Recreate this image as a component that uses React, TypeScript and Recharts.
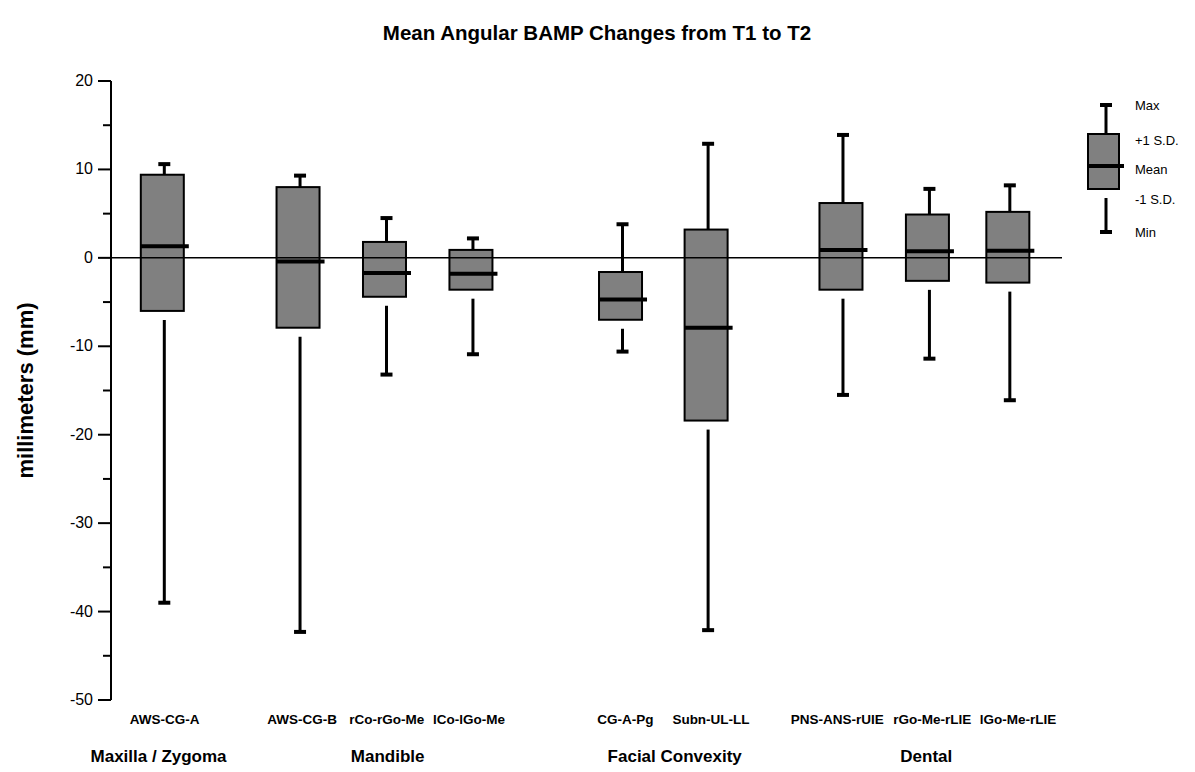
import React from "react"
import { Bar, ComposedChart, ReferenceLine, XAxis, YAxis } from "recharts"

const categories = [
  "AWS-CG-A",
  "AWS-CG-B",
  "rCo-rGo-Me",
  "lCo-lGo-Me",
  "CG-A-Pg",
  "Subn-UL-LL",
  "PNS-ANS-rUIE",
  "rGo-Me-rLIE",
  "lGo-Me-rLIE",
]
// x positions of each box (groups leave gaps between them)
const positions = [0.59, 2.16, 3.16, 4.16, 5.89, 6.88, 8.44, 9.44, 10.37]
// where the category names sit under the boxes
const labelPositions = [0.62, 2.21, 3.19, 4.14, 5.95, 6.94, 8.4, 9.5, 10.49]

const maxValues = [10.6, 9.3, 4.5, 2.2, 3.8, 12.9, 13.9, 7.8, 8.2]
const plusSD = [9.4, 8.0, 1.8, 0.9, -1.6, 3.2, 6.2, 4.9, 5.2]
const means = [1.3, -0.4, -1.7, -1.8, -4.7, -7.9, 0.9, 0.75, 0.8]
const minusSD = [-6.0, -7.9, -4.4, -3.6, -7.0, -18.4, -3.6, -2.6, -2.8]
const minValues = [-39.0, -42.3, -13.2, -10.9, -10.6, -42.1, -15.5, -11.4, -16.1]

const groups = ["Maxilla / Zygoma", "Mandible", "Facial Convexity", "Dental"]
const groupPositions = [0.55, 3.2, 6.52, 9.43]

const yTicks = [20, 15, 10, 5, 0, -5, -10, -15, -20, -25, -30, -35, -40, -45, -50]

const FONT = "'Liberation Sans', Arial, sans-serif"

const data = categories.map((name, i) => ({
  name,
  pos: positions[i],
  range: [minValues[i], maxValues[i]],
  max: maxValues[i],
  hi: plusSD[i],
  mean: means[i],
  lo: minusSD[i],
  min: minValues[i],
}))

function BoxShape(props: any) {
  const { x, y, width, height, payload } = props
  const top = Math.min(y, y + height)
  const h = Math.abs(height)
  const k = h / (payload.max - payload.min)
  const py = (v: number) => top + (payload.max - v) * k
  const wx = x + width / 2 + 2
  return (
    <g>
      <line x1={wx} x2={wx} y1={py(payload.max)} y2={py(payload.hi)} stroke="#000" strokeWidth={3} />
      <line x1={wx - 6} x2={wx + 6} y1={py(payload.max)} y2={py(payload.max)} stroke="#000" strokeWidth={4} />
      <rect
        x={x}
        y={py(payload.hi)}
        width={width}
        height={py(payload.lo) - py(payload.hi)}
        fill="#808080"
        stroke="#000"
        strokeWidth={2}
      />
      <line x1={x} x2={x + width + 5} y1={py(payload.mean)} y2={py(payload.mean)} stroke="#000" strokeWidth={4} />
      <line x1={wx} x2={wx} y1={py(payload.lo) + 9} y2={py(payload.min)} stroke="#000" strokeWidth={3} />
      <line x1={wx - 6} x2={wx + 6} y1={py(payload.min)} y2={py(payload.min)} stroke="#000" strokeWidth={4} />
    </g>
  )
}

function YTick(props: any) {
  const { x, y, payload } = props
  const major = payload.value % 10 === 0
  const axisX = x + 17
  return (
    <g>
      <line x1={axisX - (major ? 13 : 8)} x2={axisX} y1={y} y2={y} stroke="#000" strokeWidth={2} />
      {major && (
        <text x={x - 1} y={y} dy={5} textAnchor="end" fontSize={16} fontFamily={FONT} fill="#000">
          {payload.value}
        </text>
      )}
    </g>
  )
}

function Legend() {
  const labels = [
    { t: "Max", y: 105 },
    { t: "+1 S.D.", y: 140 },
    { t: "Mean", y: 169 },
    { t: "-1 S.D.", y: 199 },
    { t: "Min", y: 232 },
  ]
  return (
    <g>
      <line x1={1106} x2={1106} y1={105} y2={134} stroke="#000" strokeWidth={3} />
      <line x1={1100} x2={1112} y1={105} y2={105} stroke="#000" strokeWidth={4} />
      <rect x={1088} y={134} width={31} height={55} fill="#808080" stroke="#000" strokeWidth={2} />
      <line x1={1088} x2={1124} y1={166} y2={166} stroke="#000" strokeWidth={4} />
      <line x1={1106} x2={1106} y1={198} y2={232} stroke="#000" strokeWidth={3} />
      <line x1={1100} x2={1112} y1={232} y2={232} stroke="#000" strokeWidth={4} />
      {labels.map((l) => (
        <text key={l.t} x={1135} y={l.y} dy={4.5} fontSize={13} fontFamily={FONT} fill="#000">
          {l.t}
        </text>
      ))}
    </g>
  )
}

export default function App() {
  return (
    <div style={{ position: "absolute", left: 0, top: 0, width: 1195, height: 772, background: "#fff" }}>
      <ComposedChart width={1195} height={772} data={data} margin={{ top: 81, right: 133, left: 0, bottom: 0 }}>
        <XAxis
          dataKey="pos"
          type="number"
          domain={[0, 11]}
          ticks={labelPositions}
          interval={0}
          tickFormatter={(v: number) => categories[labelPositions.indexOf(v)]}
          axisLine={false}
          tickLine={false}
          tickSize={0}
          tickMargin={14}
          height={30}
          tick={{ fontSize: 13.5, fontWeight: "bold", fill: "#000", fontFamily: FONT }}
        />
        <XAxis
          xAxisId="group"
          dataKey="pos"
          type="number"
          domain={[0, 11]}
          ticks={groupPositions}
          interval={0}
          tickFormatter={(v: number) => groups[groupPositions.indexOf(v)]}
          axisLine={false}
          tickLine={false}
          tickSize={0}
          tickMargin={20}
          height={42}
          tick={{ fontSize: 17, fontWeight: "bold", fill: "#000", fontFamily: FONT }}
        />
        <YAxis
          type="number"
          domain={[-50, 20]}
          ticks={yTicks}
          interval={0}
          width={111}
          tickSize={13}
          tickMargin={4}
          tickLine={false}
          axisLine={{ stroke: "#000", strokeWidth: 2 }}
          tick={<YTick />}
          label={(p: any) => (
            <text
              transform={`translate(33, ${p.viewBox.y + p.viewBox.height / 2}) rotate(-90)`}
              textAnchor="middle"
              fontSize={22}
              fontWeight="bold"
              fontFamily={FONT}
              fill="#000"
            >
              millimeters (mm)
            </text>
          )}
        />
        <ReferenceLine y={0} stroke="#000" strokeWidth={1.5} />
        <Bar dataKey="range" barSize={43} shape={<BoxShape />} isAnimationActive={false} />
      </ComposedChart>
      <svg width={1195} height={772} style={{ position: "absolute", left: 0, top: 0, pointerEvents: "none" }}>
        <text x={597} y={40} textAnchor="middle" fontSize={20.5} fontWeight="bold" fontFamily={FONT} fill="#000">
          Mean Angular BAMP Changes from T1 to T2
        </text>
        <Legend />
      </svg>
    </div>
  )
}
